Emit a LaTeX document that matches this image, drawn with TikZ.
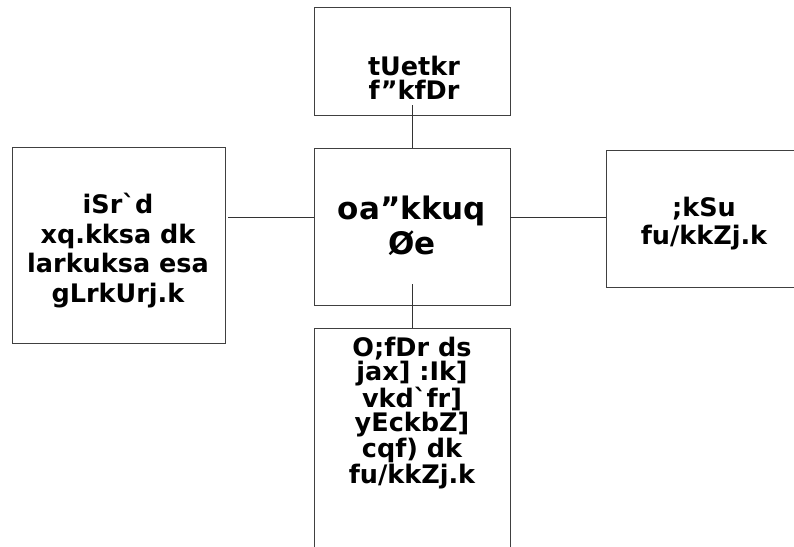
\documentclass[tikz,border=0pt]{standalone}
\usepackage{fontspec}
\setmainfont{DejaVu Sans}[Ligatures=TeXOff]
\begin{document}
\begin{tikzpicture}[x=1pt,y=-1pt,
  boxst/.style={draw=black!75,line width=0.9pt,rectangle,inner sep=0pt},
  txt/.style={align=center,inner sep=0pt,font=\bfseries},
  conn/.style={draw=black!80,line width=0.8pt}]
\useasboundingbox (0,0) rectangle (794,546);
\clip (0,0) rectangle (794,546);
% boxes
\node[boxst,minimum width=196pt,minimum height=108pt] (tbox) at (412,61) {};
\node[boxst,minimum width=196pt,minimum height=157pt] (cbox) at (412,226.5) {};
\node[boxst,minimum width=213pt,minimum height=196pt] (lbox) at (118.5,245) {};
\node[boxst,minimum width=220pt,minimum height=137pt] (rbox) at (716,218.5) {};
\node[boxst,minimum width=196pt,minimum height=240pt] (bbox) at (412,448) {};
% texts
\node[txt,font=\bfseries\fontsize{25.5}{24.5}\selectfont] (ttxt) at (414,78) {tUetkr\\f”kfDr};
\node[txt,font=\bfseries\fontsize{31}{35}\selectfont] (ctxt) at (412,226) {oa”kkuq\\Øe};
\node[txt,font=\bfseries\fontsize{25.5}{29.5}\selectfont] (ltxt) at (118,250.5) {iSr`d\\xq.kksa dk\\larkuksa esa\\gLrkUrj.k};
\node[txt,font=\bfseries\fontsize{25.5}{28}\selectfont] (rtxt) at (704,223.5) {;kSu\\fu/kkZj.k};
\node[txt,font=\bfseries\fontsize{25.5}{24.3}\selectfont] (btxt) at (412,413) {O;fDr ds\\jax] :Ik]\\vkd`fr]\\yEckbZ]\\cqf) dk\\fu/kkZj.k};
% connector end points
\coordinate (tstart) at (412,105);
\coordinate (cstart) at (412,284);
\coordinate (lstart) at (228,217);
\coordinate (rlevel) at (560,217);
% connectors
\draw[conn] (tstart) -- (tstart |- cbox.north);
\draw[conn] (cstart) -- (cstart |- bbox.north);
\draw[conn] (lstart) -- (lstart -| cbox.west);
\draw[conn] (rlevel -| cbox.east) -- (rlevel -| rbox.west);
\end{tikzpicture}
\end{document}
